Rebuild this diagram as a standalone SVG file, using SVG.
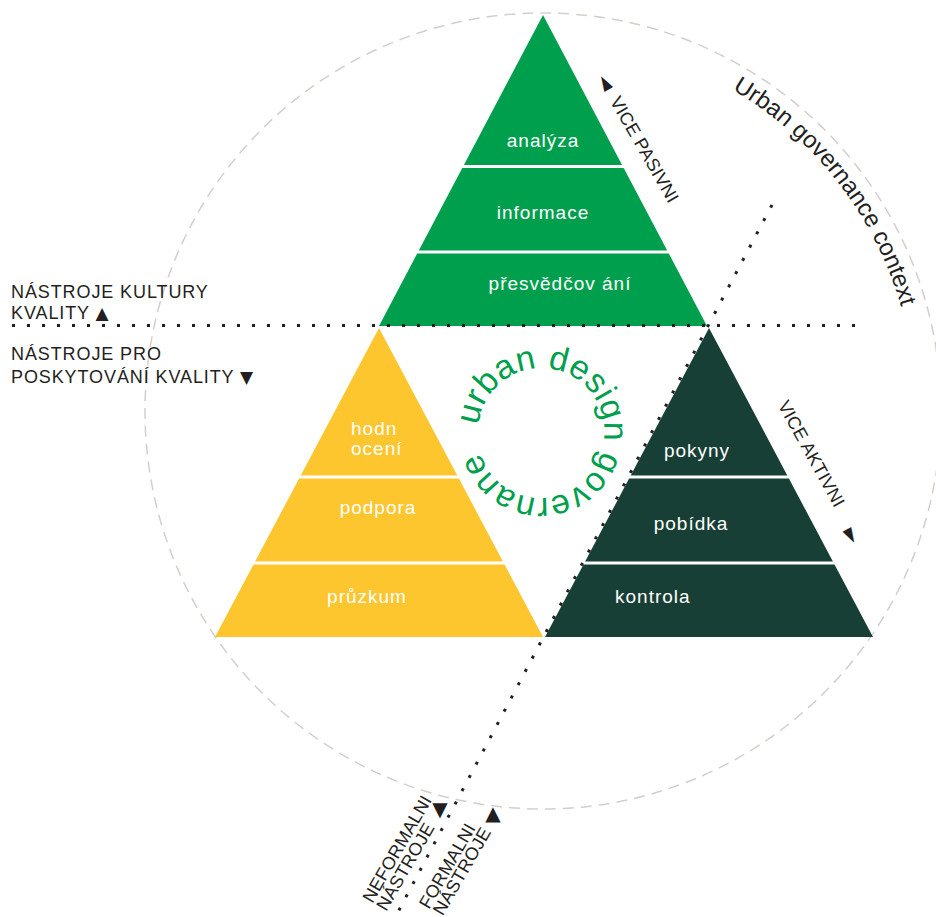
<svg xmlns="http://www.w3.org/2000/svg" width="936" height="917" viewBox="0 0 936 917">
<style>
.lbl{font-family:"Liberation Sans",Arial,sans-serif;font-size:18px;fill:#231F20;letter-spacing:0.9px}
.blb{font-family:"Liberation Sans",Arial,sans-serif;font-size:18px;fill:#231F20;letter-spacing:0.2px}
.wt{font-family:"Liberation Sans",Arial,sans-serif;font-size:19px;fill:#fff;letter-spacing:1px}
.g1{fill:#009F4D}.y1{fill:#FDC52E}.d1{fill:#183F35}
.dots{stroke:#231F20;stroke-width:3;stroke-dasharray:3 12;fill:none}
.ctx{font-family:"Liberation Sans",Arial,sans-serif;font-size:24px;fill:#231F20}
.udg{font-family:"Liberation Sans",Arial,sans-serif;font-size:34px;fill:#009F4D;letter-spacing:0.4px}
.tri{font-family:"DejaVu Sans","Liberation Sans",sans-serif;font-size:20px;fill:#231F20}
.ts{font-family:"DejaVu Sans","Liberation Sans",sans-serif;font-size:17px}
</style>
<defs>
<path id="ctxPath" d="M732.3,89.6 A373,373 0 0 1 914.6,443.5"/>
<path id="udgPath" d="M478.5,425.3 A63,63 0 1 1 603.5,440.7 A63,63 0 1 1 478.5,425.3"/>
</defs>
<rect width="936" height="917" fill="#fff"/>
<circle id="context-circle" cx="543" cy="411" r="398" fill="none" stroke="#D3CFCB" stroke-width="1.5" stroke-dasharray="11 7"/>

<g id="pyramid-culture">
 <g id="analyza"><polygon class="g1" points="543,15 622.1,165 463.9,165"/><text class="wt" x="543" y="147" text-anchor="middle">analýza</text></g>
 <g id="informace"><polygon class="g1" points="462.3,168 623.7,168 667.2,250.5 418.8,250.5"/><text class="wt" x="543" y="219" text-anchor="middle">informace</text></g>
 <g id="presvedcovani"><polygon class="g1" points="417.2,253.5 668.8,253.5 707,326 379,326"/><text class="wt" x="560" y="290" text-anchor="middle">přesvědčov ání</text></g>
</g>
<g id="pyramid-provision">
 <g id="hodnoceni"><polygon class="y1" points="379,328 457.3,475.5 300.7,475.5"/><text class="wt" x="351" y="435">hodn</text><text class="wt" x="351" y="455">ocení</text></g>
 <g id="podpora"><polygon class="y1" points="299.1,478.5 458.9,478.5 502.9,561.5 255.1,561.5"/><text class="wt" x="378" y="514" text-anchor="middle">podpora</text></g>
 <g id="pruzkum"><polygon class="y1" points="253.5,564.5 504.5,564.5 543,637 215,637"/><text class="wt" x="367" y="603" text-anchor="middle">průzkum</text></g>
</g>
<g id="pyramid-active">
 <g id="pokyny"><polygon class="d1" points="709,328 787.3,475.5 630.7,475.5"/><text class="wt" x="697" y="457" text-anchor="middle">pokyny</text></g>
 <g id="pobidka"><polygon class="d1" points="629.1,478.5 788.9,478.5 832.9,561.5 585.1,561.5"/><text class="wt" x="691" y="530" text-anchor="middle">pobídka</text></g>
 <g id="kontrola"><polygon class="d1" points="583.5,564.5 834.5,564.5 873,637 545,637"/><text class="wt" x="615" y="603">kontrola</text></g>
</g>

<g id="connectors">
 <line class="dots" x1="12" y1="325.5" x2="858" y2="325.5"/>
 <line class="dots" x1="772" y1="205" x2="398" y2="912"/>
</g>

<g id="urban-design-governance">
 <text class="udg"><textPath href="#udgPath">urban design governane</textPath></text>
</g>
<g id="urban-governance-context">
 <text class="ctx"><textPath href="#ctxPath">Urban governance context</textPath></text>
</g>

<g id="label-culture">
 <text class="lbl" x="11" y="298">NÁSTROJE KULTURY</text>
 <text class="lbl" x="11" y="319">KVALITY <tspan class="ts">▲</tspan></text>
</g>
<g id="label-provision">
 <text class="lbl" x="11" y="360">NÁSTROJE PRO</text>
 <text class="lbl" x="11" y="383">POSKYTOVÁNÍ KVALITY <tspan class="ts">▼</tspan></text>
</g>
<g id="label-passive">
 <text class="tri" transform="translate(606.5,82) rotate(60)" text-anchor="middle" dominant-baseline="central">◄</text>
 <text class="blb" transform="translate(609.4,101) rotate(60)">VICE PASIVNI</text>
</g>
<g id="label-active">
 <text class="blb" transform="translate(777.4,404.9) rotate(61)">VICE AKTIVNI</text>
 <text class="tri" transform="translate(852,535) rotate(61)" text-anchor="middle" dominant-baseline="central">►</text>
</g>
<g id="label-informal">
 <text class="blb" transform="translate(372.4,903.9) rotate(-60)">NEFORMALNI</text>
 <text class="blb" transform="translate(386.3,911.9) rotate(-60)">NÁSTROJE</text>
 <text class="tri" x="440" y="809" text-anchor="middle" dominant-baseline="central">▼</text>
</g>
<g id="label-formal">
 <text class="blb" transform="translate(428.9,910) rotate(-60)">FORMALNI</text>
 <text class="blb" transform="translate(442.8,916.5) rotate(-60)">NÁSTROJE</text>
 <text class="tri" x="493" y="813" text-anchor="middle" dominant-baseline="central">▲</text>
</g>
</svg>
